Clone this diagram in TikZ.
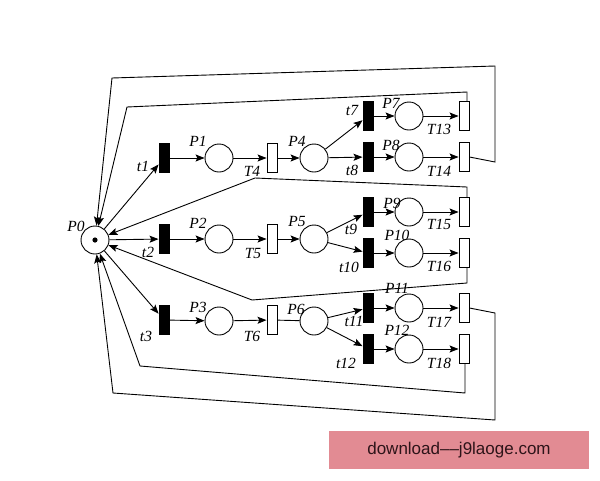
\documentclass[tikz,border=0pt]{standalone}
\usepackage{fontspec}
\setmainfont{Liberation Serif}
\newfontfamily\wmfont{Liberation Sans}
\usetikzlibrary{arrows.meta}
\definecolor{wmfill}{RGB}{226,139,147}
\definecolor{wmtext}{RGB}{45,20,25}
\tikzset{
  place/.style={circle, draw, minimum size=28pt, inner sep=0pt, line width=0.9pt},
  btrans/.style={rectangle, draw, fill=black, minimum width=10pt, minimum height=29pt, inner sep=0pt, line width=0.9pt},
  wtrans/.style={rectangle, draw, fill=white, minimum width=10pt, minimum height=29pt, inner sep=0pt, line width=0.9pt},
  lbl/.style={font=\itshape\fontsize{15.5}{15.5}\selectfont, inner sep=0pt, anchor=center},
  arc/.style={-{Stealth[length=9pt,width=7pt,inset=1.8pt]}, line width=0.9pt},
  ln/.style={line width=0.9pt}
}
\begin{document}
\begin{tikzpicture}[x=1pt,y=-1pt]
\useasboundingbox (0,0) rectangle (600,480);
% places and transitions
\node[place] (P0) at (95,240) {};
\fill (P0.center) circle (2.6pt);
\node[btrans] (t1) at (164,158) {};
\node[place]  (P1) at (219,158) {};
\node[wtrans] (T4) at (272,158) {};
\node[place]  (P4) at (314,158) {};
\node[btrans] (t7) at (368,116) {};
\node[place]  (P7) at (409,116) {};
\node[wtrans] (T13) at (464,116) {};
\node[btrans] (t8) at (368,157) {};
\node[place]  (P8) at (409,157) {};
\node[wtrans] (T14) at (464,157) {};

\node[btrans] (t2) at (164,239) {};
\node[place]  (P2) at (219,239) {};
\node[wtrans] (T5) at (272,239) {};
\node[place]  (P5) at (314,239) {};
\node[btrans] (t9) at (368,212) {};
\node[place]  (P9) at (409,212) {};
\node[wtrans] (T15) at (464,212) {};
\node[btrans] (t10) at (368,253) {};
\node[place]  (P10) at (409,253) {};
\node[wtrans] (T16) at (464,253) {};

\node[btrans] (t3) at (164,320) {};
\node[place]  (P3) at (219,321) {};
\node[wtrans] (T6) at (272,320) {};
\node[place]  (P6) at (314,321) {};
\node[btrans] (t11) at (368,308) {};
\node[place]  (P11) at (409,308) {};
\node[wtrans] (T17) at (464,308) {};
\node[btrans] (t12) at (368,349) {};
\node[place]  (P12) at (409,349) {};
\node[wtrans] (T18) at (464,349) {};

% arcs
\draw[arc] (P0) -- (t1);
\draw[arc] (P0) -- (t2);
\draw[arc] (P0) -- (t3);
\draw[arc] (t1) -- (P1);
\draw[arc] (P1) -- (T4);
\draw[arc] (T4) -- (P4);
\draw[arc] (P4) -- (t7);
\draw[arc] (P4) -- (t8);
\draw[arc] (t7) -- (P7);
\draw[arc] (t8) -- (P8);
\draw[arc] (P7) -- (T13);
\draw[arc] (P8) -- (T14);

\draw[arc] (t2) -- (P2);
\draw[arc] (P2) -- (T5);
\draw[arc] (T5) -- (P5);
\draw[arc] (P5) -- (t9);
\draw[arc] (P5) -- (t10);
\draw[arc] (t9) -- (P9);
\draw[arc] (t10) -- (P10);
\draw[arc] (P9) -- (T15);
\draw[arc] (P10) -- (T16);

\draw[arc] (t3) -- (P3);
\draw[arc] (P3) -- (T6);
\draw[ln]  (T6) -- (P6);
\draw[arc] (P6) -- (t11);
\draw[arc] (P6) -- (t12);
\draw[arc] (t11) -- (P11);
\draw[arc] (t12) -- (P12);
\draw[arc] (P11) -- (T17);
\draw[arc] (P12) -- (T18);

% return loops
\coordinate (a1) at (467,92);
\coordinate (a2) at (127,107);
\draw[arc] (T13.north -| a1) -- (a1) -- (a2) -- (P0);
\coordinate (b1) at (495,162);
\coordinate (b2) at (495,66);
\coordinate (b3) at (112,78);
\draw[arc] (T14.east) -- (b1) -- (b2) -- (b3) -- (P0);
\coordinate (c1) at (467,187);
\coordinate (c2) at (255,178);
\draw[arc] (T15.north -| c1) -- (c1) -- (c2) -- (P0);
\coordinate (d1) at (467,283);
\coordinate (d2) at (252,300);
\draw[arc] (T16.south -| d1) -- (d1) -- (d2) -- (P0);
\coordinate (e1) at (465,393);
\coordinate (e2) at (140,366);
\draw[arc] (T18.south -| e1) -- (e1) -- (e2) -- (P0);
\coordinate (f1) at (495,313);
\coordinate (f2) at (495,420);
\coordinate (f3) at (113,393);
\draw[arc] (T17.east) -- (f1) -- (f2) -- (f3) -- (P0);

% labels
\node[lbl] (lP0) at (76,226) {P0};
\node[lbl] (lP1) at (198,141) {P1};
\node[lbl] (lt1) at (143,166) {t1};
\node[lbl] (lT4) at (252,171) {T4};
\node[lbl] (lP4) at (297,141) {P4};
\node[lbl] (lt7) at (352,110) {t7};
\node[lbl] (lP7) at (391,103) {P7};
\node[lbl] (lT13) at (439,129) {T13};
\node[lbl] (lt8) at (352,170) {t8};
\node[lbl] (lP8) at (391,145) {P8};
\node[lbl] (lT14) at (439,171) {T14};

\node[lbl] (lP2) at (198,223) {P2};
\node[lbl] (lt2) at (148,252) {t2};
\node[lbl] (lT5) at (253,253) {T5};
\node[lbl] (lP5) at (297,221) {P5};
\node[lbl] (lP9) at (392,203) {P9};
\node[lbl] (lt9) at (351,229) {t9};
\node[lbl] (lT15) at (439,224) {T15};
\node[lbl] (lP10) at (397,235) {P10};
\node[lbl] (lt10) at (349,267) {t10};
\node[lbl] (lT16) at (439,266) {T16};

\node[lbl] (lP3) at (198,307) {P3};
\node[lbl] (lt3) at (146,336) {t3};
\node[lbl] (lT6) at (252,336) {T6};
\node[lbl] (lP6) at (296,309) {P6};
\node[lbl] (lP11) at (397,288) {P11};
\node[lbl] (lt11) at (354,321) {t11};
\node[lbl] (lT17) at (439,322) {T17};
\node[lbl] (lP12) at (397,330) {P12};
\node[lbl] (lt12) at (346,363) {t12};
\node[lbl] (lT18) at (439,363) {T18};

% watermark
\node[fill=wmfill, minimum width=260pt, minimum height=38pt, inner sep=0pt,
      text=wmtext, font=\wmfont\fontsize{17}{17}\selectfont] (wm) at (459,450) {download\textendash\textendash j9laoge.com};
\end{tikzpicture}
\end{document}
